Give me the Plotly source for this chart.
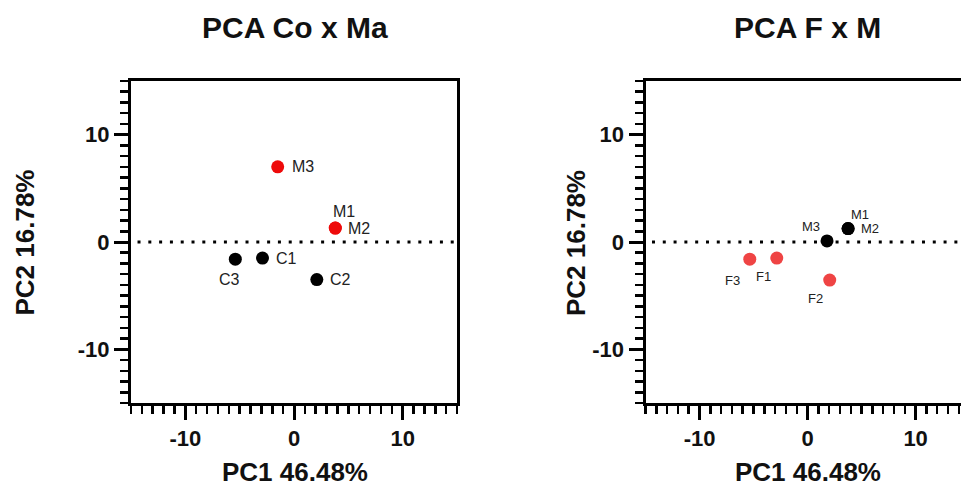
import plotly.graph_objects as go

# ---------------- data ----------------
left_title = "PCA Co x Ma"
right_title = "PCA F x M"
x_title = "PC1 46.48%"
y_title = "PC2 16.78%"
tick_vals = [-10, 0, 10]
tick_text = ["-10", "0", "10"]

# left panel: Co (black) vs Ma (red)
left_black_labels = ["C1", "C2", "C3"]
left_black_x = [-2.9, 2.1, -5.4]
left_black_y = [-1.5, -3.5, -1.6]
left_red_labels = ["M1", "M2", "M3"]
left_red_x = [3.8, 3.8, -1.5]
left_red_y = [1.3, 1.3, 7.0]

# right panel: F (red) vs M (black)
right_black_labels = ["M1", "M2", "M3"]
right_black_x = [3.75, 3.75, 1.8]
right_black_y = [1.25, 1.25, 0.1]
right_red_labels = ["F1", "F2", "F3"]
right_red_x = [-2.85, 2.05, -5.35]
right_red_y = [-1.5, -3.55, -1.6]

# ---------------- style ----------------
FONT = "Arial, Liberation Sans, sans-serif"
W, H = 961, 488
# label placement (xanchor, xshift, yshift)
left_label_pos = {
    "C1": ("left", 12, 0), "C2": ("left", 11, 0), "C3": ("center", -6, -20),
    "M1": ("center", 9, 17), "M2": ("left", 11, 0), "M3": ("left", 12, 0),
}
right_label_pos = {
    "M1": ("center", 12, 14), "M2": ("left", 11, 0), "M3": ("right", -5, 14),
    "F1": ("center", -13, -18), "F2": ("center", -14, -18), "F3": ("center", -17, -21),
}

fig = go.Figure()

def add_points(xs, ys, color, xa, ya, size):
    fig.add_trace(go.Scatter(
        x=xs, y=ys, mode="markers", xaxis=xa, yaxis=ya,
        marker=dict(color=color, size=size, line=dict(width=0)),
        showlegend=False, hoverinfo="skip"))

add_points(left_black_x, left_black_y, "#000000", "x", "y", 13)
add_points(left_red_x, left_red_y, "#ee0a0a", "x", "y", 13)
add_points(right_black_x, right_black_y, "#000000", "x2", "y2", 13)
add_points(right_red_x, right_red_y, "#ef4444", "x2", "y2", 13)

def add_labels(labels, xs, ys, pos, xref, yref, size):
    for lab, x, y in zip(labels, xs, ys):
        xa, dx, dy = pos[lab]
        fig.add_annotation(x=x, y=y, xref=xref, yref=yref, text=lab,
                           showarrow=False, xanchor=xa, yanchor="middle",
                           xshift=dx, yshift=dy,
                           font=dict(family=FONT, size=size, color="#222"))

add_labels(left_black_labels, left_black_x, left_black_y, left_label_pos, "x", "y", 16)
add_labels(left_red_labels, left_red_x, left_red_y, left_label_pos, "x", "y", 16)
add_labels(right_black_labels, right_black_x, right_black_y, right_label_pos, "x2", "y2", 13)
add_labels(right_red_labels, right_red_x, right_red_y, right_label_pos, "x2", "y2", 13)

# dotted zero lines
for xr, yr, x1 in [("x", "y", 15), ("x2", "y2", 14.2)]:
    fig.add_shape(type="line", xref=xr, yref=yr, x0=-14.4, x1=x1, y0=0, y1=0,
                  line=dict(color="black", width=3, dash="3px,7.8px"))

def axis_common(domain, rng, mirror):
    return dict(
        domain=domain, range=rng, showgrid=False, zeroline=False,
        showline=True, linecolor="black", linewidth=3, mirror=mirror,
        ticks="outside", ticklen=14, tickwidth=3, tickcolor="black",
        tickvals=tick_vals, ticktext=tick_text,
        tickfont=dict(family=FONT, size=22, color="#111", weight="bold"),
        minor=dict(ticks="outside", dtick=1, tick0=0, ticklen=8, tickwidth=2.5,
                   tickcolor="black", showgrid=False),
        automargin=False, fixedrange=True,
    )

ydom = [(H - 403) / H, (H - 81) / H]
fig.update_layout(
    width=W, height=H, margin=dict(l=0, r=0, t=0, b=0),
    paper_bgcolor="white", plot_bgcolor="white",
    xaxis=dict(axis_common([131 / W, 457 / W], [-15, 15], True), anchor="y"),
    yaxis=dict(axis_common(ydom, [-15, 15], True), anchor="x"),
    xaxis2=dict(axis_common([645.5 / W, 1.0], [-15, 14.2], True), anchor="y2"),
    yaxis2=dict(axis_common(ydom, [-15, 15], False), anchor="x2"),
)

# titles
for txt, cx in [(left_title, 294.5), (right_title, 807.7)]:
    fig.add_annotation(text=f"<b>{txt}</b>", xref="paper", yref="paper",
                       x=cx / W, y=(H - 28) / H, xanchor="center", yanchor="middle",
                       showarrow=False, font=dict(family=FONT, size=30, color="#111"))
# axis titles
for cx in [294.5, 807.7]:
    fig.add_annotation(text=f"<b>{x_title}</b>", xref="paper", yref="paper",
                       x=cx / W, y=(H - 472) / H, xanchor="center", yanchor="middle",
                       showarrow=False, font=dict(family=FONT, size=26, color="#111"))
for cx in [24.5, 576]:
    fig.add_annotation(text=f"<b>{y_title}</b>", xref="paper", yref="paper",
                       x=cx / W, y=(H - 243) / H, xanchor="center", yanchor="middle",
                       textangle=-90, showarrow=False,
                       font=dict(family=FONT, size=26, color="#111"))

fig.write_html("out.html",
               config={"displayModeBar": False, "staticPlot": True},
               post_script="document.body.style.margin='0px';document.body.style.overflow='hidden';")
